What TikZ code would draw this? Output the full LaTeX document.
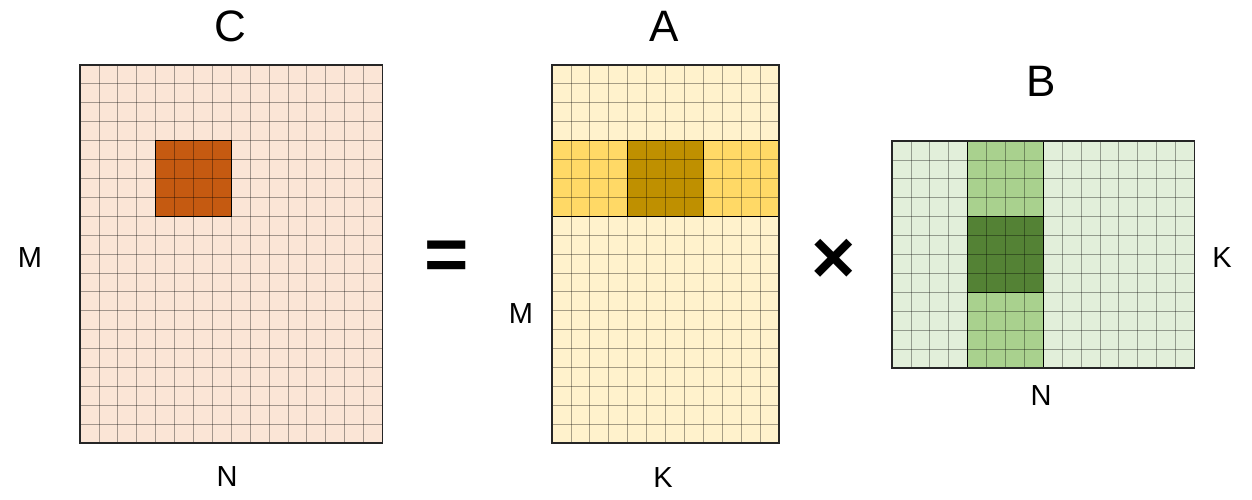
\documentclass[tikz,border=0pt]{standalone}
\usepackage{fontspec}
\setmainfont{Liberation Sans}
\definecolor{cfill}{HTML}{FBE5D6}
\definecolor{cdark}{HTML}{C55A11}
\definecolor{afill}{HTML}{FFF2CC}
\definecolor{aband}{HTML}{FFD966}
\definecolor{adark}{HTML}{BF9000}
\definecolor{bfill}{HTML}{E2EFDA}
\definecolor{bband}{HTML}{A9D18E}
\definecolor{bdark}{HTML}{548235}
\begin{document}
\begin{tikzpicture}[x=1pt,y=-1pt,
 big/.style={font=\fontsize{44}{50}\selectfont, inner sep=0pt},
 small/.style={font=\fontsize{29}{34}\selectfont, inner sep=0pt},
 op/.style={font=\fontsize{76}{80}\selectfont\bfseries, inner sep=0pt},
 mat/.style={anchor=north west, inner sep=0pt, outer sep=0pt},
 gridline/.style={draw=black, draw opacity=0.35, line width=0.8pt},
 hilite/.style={draw=black, line width=1pt},
 frame/.style={draw=black!85, line width=1.4pt}]
\useasboundingbox (0,0) rectangle (1252,500);
\def\cs{18.9}
% ---------- matrix C ----------
\node[mat, fill=cfill, minimum width=302.4pt, minimum height=378pt] (C) at (80,65) {};
\node[mat, fill=cdark, minimum width=75.6pt, minimum height=75.6pt] (Cblk) at ({80+4*\cs},{65+4*\cs}) {};
\foreach \i in {1,...,15} \draw[gridline] ({80+\i*\cs},65) -- ++(0,{20*\cs});
\foreach \j in {1,...,19} \draw[gridline] (80,{65+\j*\cs}) -- ++({16*\cs},0);
\draw[hilite] (Cblk.north west) rectangle (Cblk.south east);
\draw[frame] (C.north west) rectangle (C.south east);
% ---------- matrix A ----------
\node[mat, fill=afill, minimum width=226.8pt, minimum height=378pt] (A) at (552,65) {};
\node[mat, fill=aband, minimum width=226.8pt, minimum height=75.6pt] (Aband) at (552,{65+4*\cs}) {};
\node[mat, fill=adark, minimum width=75.6pt, minimum height=75.6pt] (Ablk) at ({552+4*\cs},{65+4*\cs}) {};
\foreach \i in {1,...,11} \draw[gridline] ({552+\i*\cs},65) -- ++(0,{20*\cs});
\foreach \j in {1,...,19} \draw[gridline] (552,{65+\j*\cs}) -- ++({12*\cs},0);
\draw[hilite] (Aband.north west) rectangle (Aband.south east);
\draw[hilite] (Ablk.north west) rectangle (Ablk.south east);
\draw[frame] (A.north west) rectangle (A.south east);
% ---------- matrix B ----------
\node[mat, fill=bfill, minimum width=302.4pt, minimum height=226.8pt] (B) at (892,141) {};
\node[mat, fill=bband, minimum width=75.6pt, minimum height=226.8pt] (Bband) at ({892+4*\cs},141) {};
\node[mat, fill=bdark, minimum width=75.6pt, minimum height=75.6pt] (Bblk) at ({892+4*\cs},{141+4*\cs}) {};
\foreach \i in {1,...,15} \draw[gridline] ({892+\i*\cs},141) -- ++(0,{12*\cs});
\foreach \j in {1,...,11} \draw[gridline] (892,{141+\j*\cs}) -- ++({16*\cs},0);
\draw[hilite] (Bband.north west) rectangle (Bband.south east);
\draw[hilite] (Bblk.north west) rectangle (Bblk.south east);
\draw[frame] (B.north west) rectangle (B.south east);
% ---------- labels ----------
\node[big] (tC) at (230,26) {C};
\node[big] (tA) at (664,26) {A};
\node[big] (tB) at (1041,81) {B};
\node[small] (mC) at (30,258) {M};
\node[small] (nC) at (227,477) {N};
\node[small] (mA) at (521,314) {M};
\node[small] (kA) at (663,478) {K};
\node[small] (kB) at (1222,258) {K};
\node[small] (nB) at (1041,396) {N};
\node[op] (eq) at (447,261) {=};
\node[op] (times) at (834,261) {×};
\end{tikzpicture}
\end{document}
